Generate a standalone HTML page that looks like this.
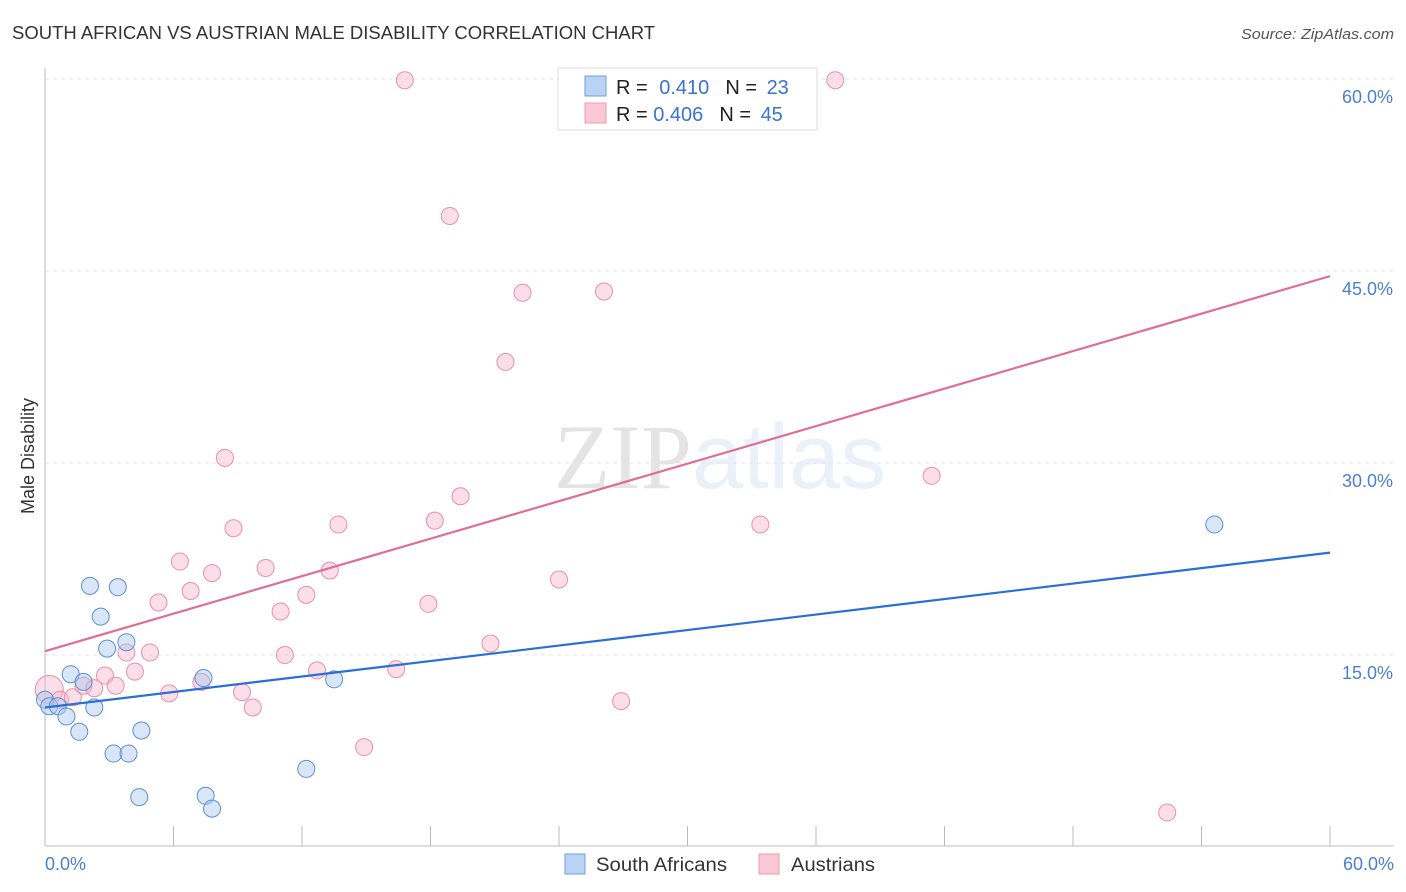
<!DOCTYPE html>
<html><head><meta charset="utf-8">
<style>
body{margin:0;background:#fff;font-family:"Liberation Sans",sans-serif;}
svg{display:block}
</style></head>
<body>
<svg id="chart" width="1406" height="892" xmlns="http://www.w3.org/2000/svg">
<text x="12" y="39" font-size="18" fill="#333" textLength="643" lengthAdjust="spacingAndGlyphs">SOUTH AFRICAN VS AUSTRIAN MALE DISABILITY CORRELATION CHART</text>
<text x="1241" y="39" font-size="15" fill="#555" font-style="italic" textLength="153" lengthAdjust="spacingAndGlyphs">Source: ZipAtlas.com</text>
<text x="720" y="488" font-size="92" text-anchor="middle" fill="#000" opacity="0.1" font-family="Liberation Serif,serif">ZIP<tspan fill="#4a7fd1" font-family="Liberation Sans,sans-serif">atlas</tspan></text>
<g id="grid"></g>
<g id="axes"></g>
<g id="pts"></g>
<g id="lines"></g>
<text transform="translate(34,456) rotate(-90)" font-size="18" fill="#333" text-anchor="middle">Male Disability</text>
<g>
<rect x="558" y="68" width="259" height="62" fill="#fff" stroke="#ddd"/>
<rect x="585" y="76" width="21" height="20" fill="#b9d3f5" stroke="#6e9ee0"/>
<rect x="585" y="103" width="21" height="20" fill="#f9c7d5" stroke="#ec9bb3"/>
<text x="616" y="94" font-size="20" fill="#222">R = <tspan fill="#3a73d0" dx="6">0.410</tspan><tspan fill="#222" dx="16">N = </tspan><tspan fill="#3a73d0" dx="4">23</tspan></text>
<text x="616" y="121" font-size="20" fill="#222">R = <tspan fill="#3a73d0">0.406</tspan><tspan fill="#222" dx="16">N = </tspan><tspan fill="#3a73d0" dx="4">45</tspan></text>
</g>
<g>
<rect x="565" y="854" width="20" height="20" fill="#b9d3f5" stroke="#6e9ee0"/>
<text x="596" y="871" font-size="19" fill="#333" textLength="131" lengthAdjust="spacingAndGlyphs">South Africans</text>
<rect x="759" y="854" width="20" height="20" fill="#f9c7d5" stroke="#ec9bb3"/>
<text x="791" y="871" font-size="19" fill="#333" textLength="84" lengthAdjust="spacingAndGlyphs">Austrians</text>
</g>
</svg>
<script>
const yTicks=[15,30,45,60];
const xTickVals=[0,6,12,18,24,30,36,42,48,54,60];
const blueX=[0.0,0.2,0.6,1.0,1.2,1.6,1.8,2.1,2.3,2.6,2.9,3.2,3.4,3.8,3.9,4.4,4.5,7.4,7.5,7.8,12.2,13.5,54.6];
const blueY=[11.5,11.0,11.0,10.2,13.5,9.0,12.9,20.4,10.9,18.0,15.5,7.3,20.3,16.0,7.3,3.9,9.1,13.2,4.0,3.0,6.1,13.1,25.2];
const pinkX=[0.2,0.7,1.3,1.8,2.3,2.8,3.3,3.8,4.2,4.9,5.3,5.8,6.3,6.8,7.3,7.8,8.4,8.8,9.2,9.7,10.3,11.0,11.2,12.2,12.7,13.3,13.7,14.9,16.4,16.8,17.9,18.2,18.9,19.4,20.8,21.5,22.3,24.0,26.1,26.9,29.7,33.4,36.9,41.4,52.4];
const pinkY=[12.3,11.5,11.7,12.6,12.4,13.4,12.6,15.2,13.7,15.2,19.1,12.0,22.3,20.0,12.9,21.4,30.4,24.9,12.1,10.9,21.8,18.4,15.0,19.7,13.8,21.6,25.2,7.8,13.9,59.9,19.0,25.5,49.3,27.4,15.9,37.9,43.3,20.9,43.4,11.4,58.0,25.2,59.9,29.0,2.7];
const blueLine=[10.9,23.0];
const pinkLine=[15.3,44.6];
const X=v=>45+v*(1330-45)/60;
const Y=v=>847-v*12.8;
const NS="http://www.w3.org/2000/svg";
function mk(t,a,p){const e=document.createElementNS(NS,t);for(const k in a)e.setAttribute(k,a[k]);p.appendChild(e);return e;}
const grid=document.getElementById('grid'),axes=document.getElementById('axes'),pts=document.getElementById('pts'),lines=document.getElementById('lines');
yTicks.forEach(v=>{
 const l=mk('line',{x1:45,x2:1394,y1:Y(v),y2:Y(v),stroke:'#e6e6e6','stroke-dasharray':'4,4'},grid);
 
 
 const t=mk('text',{x:1393,y:Y(v)+24,'font-size':18,fill:'#4a7fd1','text-anchor':'end'},grid);
 t.textContent=v.toFixed(1)+'%';
 
 
});
const ax=mk('line',{x1:45,x2:45,y1:68,y2:846,stroke:'#bbb'},axes);


const bx=mk('line',{x1:45,x2:1394,y1:846,y2:846,stroke:'#bbb'},axes);


xTickVals.forEach(v=>{
 const l=mk('line',{x1:X(v),x2:X(v),y1:826,y2:846,stroke:'#bbb'},axes);
 
 
});
[[0,'start',45],[60,'end',1394]].forEach(([v,a,x])=>{
 const t=mk('text',{x:x,y:870,'font-size':18,fill:'#4a7fd1','text-anchor':a},axes);
 t.textContent=v.toFixed(1)+'%';
 
 
});
pinkX.forEach((x,i)=>{
 const c=mk('circle',{cx:X(x),cy:Y(pinkY[i]),r:i==0?14:8.5,fill:'#f6b6c9','fill-opacity':0.45,stroke:'#e990ab','stroke-width':1},pts);
 
 
});
blueX.forEach((x,i)=>{
 const c=mk('circle',{cx:X(x),cy:Y(blueY[i]),r:8.5,fill:'#a9c8f0','fill-opacity':0.45,stroke:'#5b8fd6','stroke-width':1},pts);
 
 
});
const bl=mk('line',{x1:X(0),x2:X(60),y1:Y(blueLine[0]),y2:Y(blueLine[1]),stroke:'#2a6fd6','stroke-width':2.2},lines);


const pl=mk('line',{x1:X(0),x2:X(60),y1:Y(pinkLine[0]),y2:Y(pinkLine[1]),stroke:'#e06d93','stroke-width':2.2},lines);


</script>
</body></html>
